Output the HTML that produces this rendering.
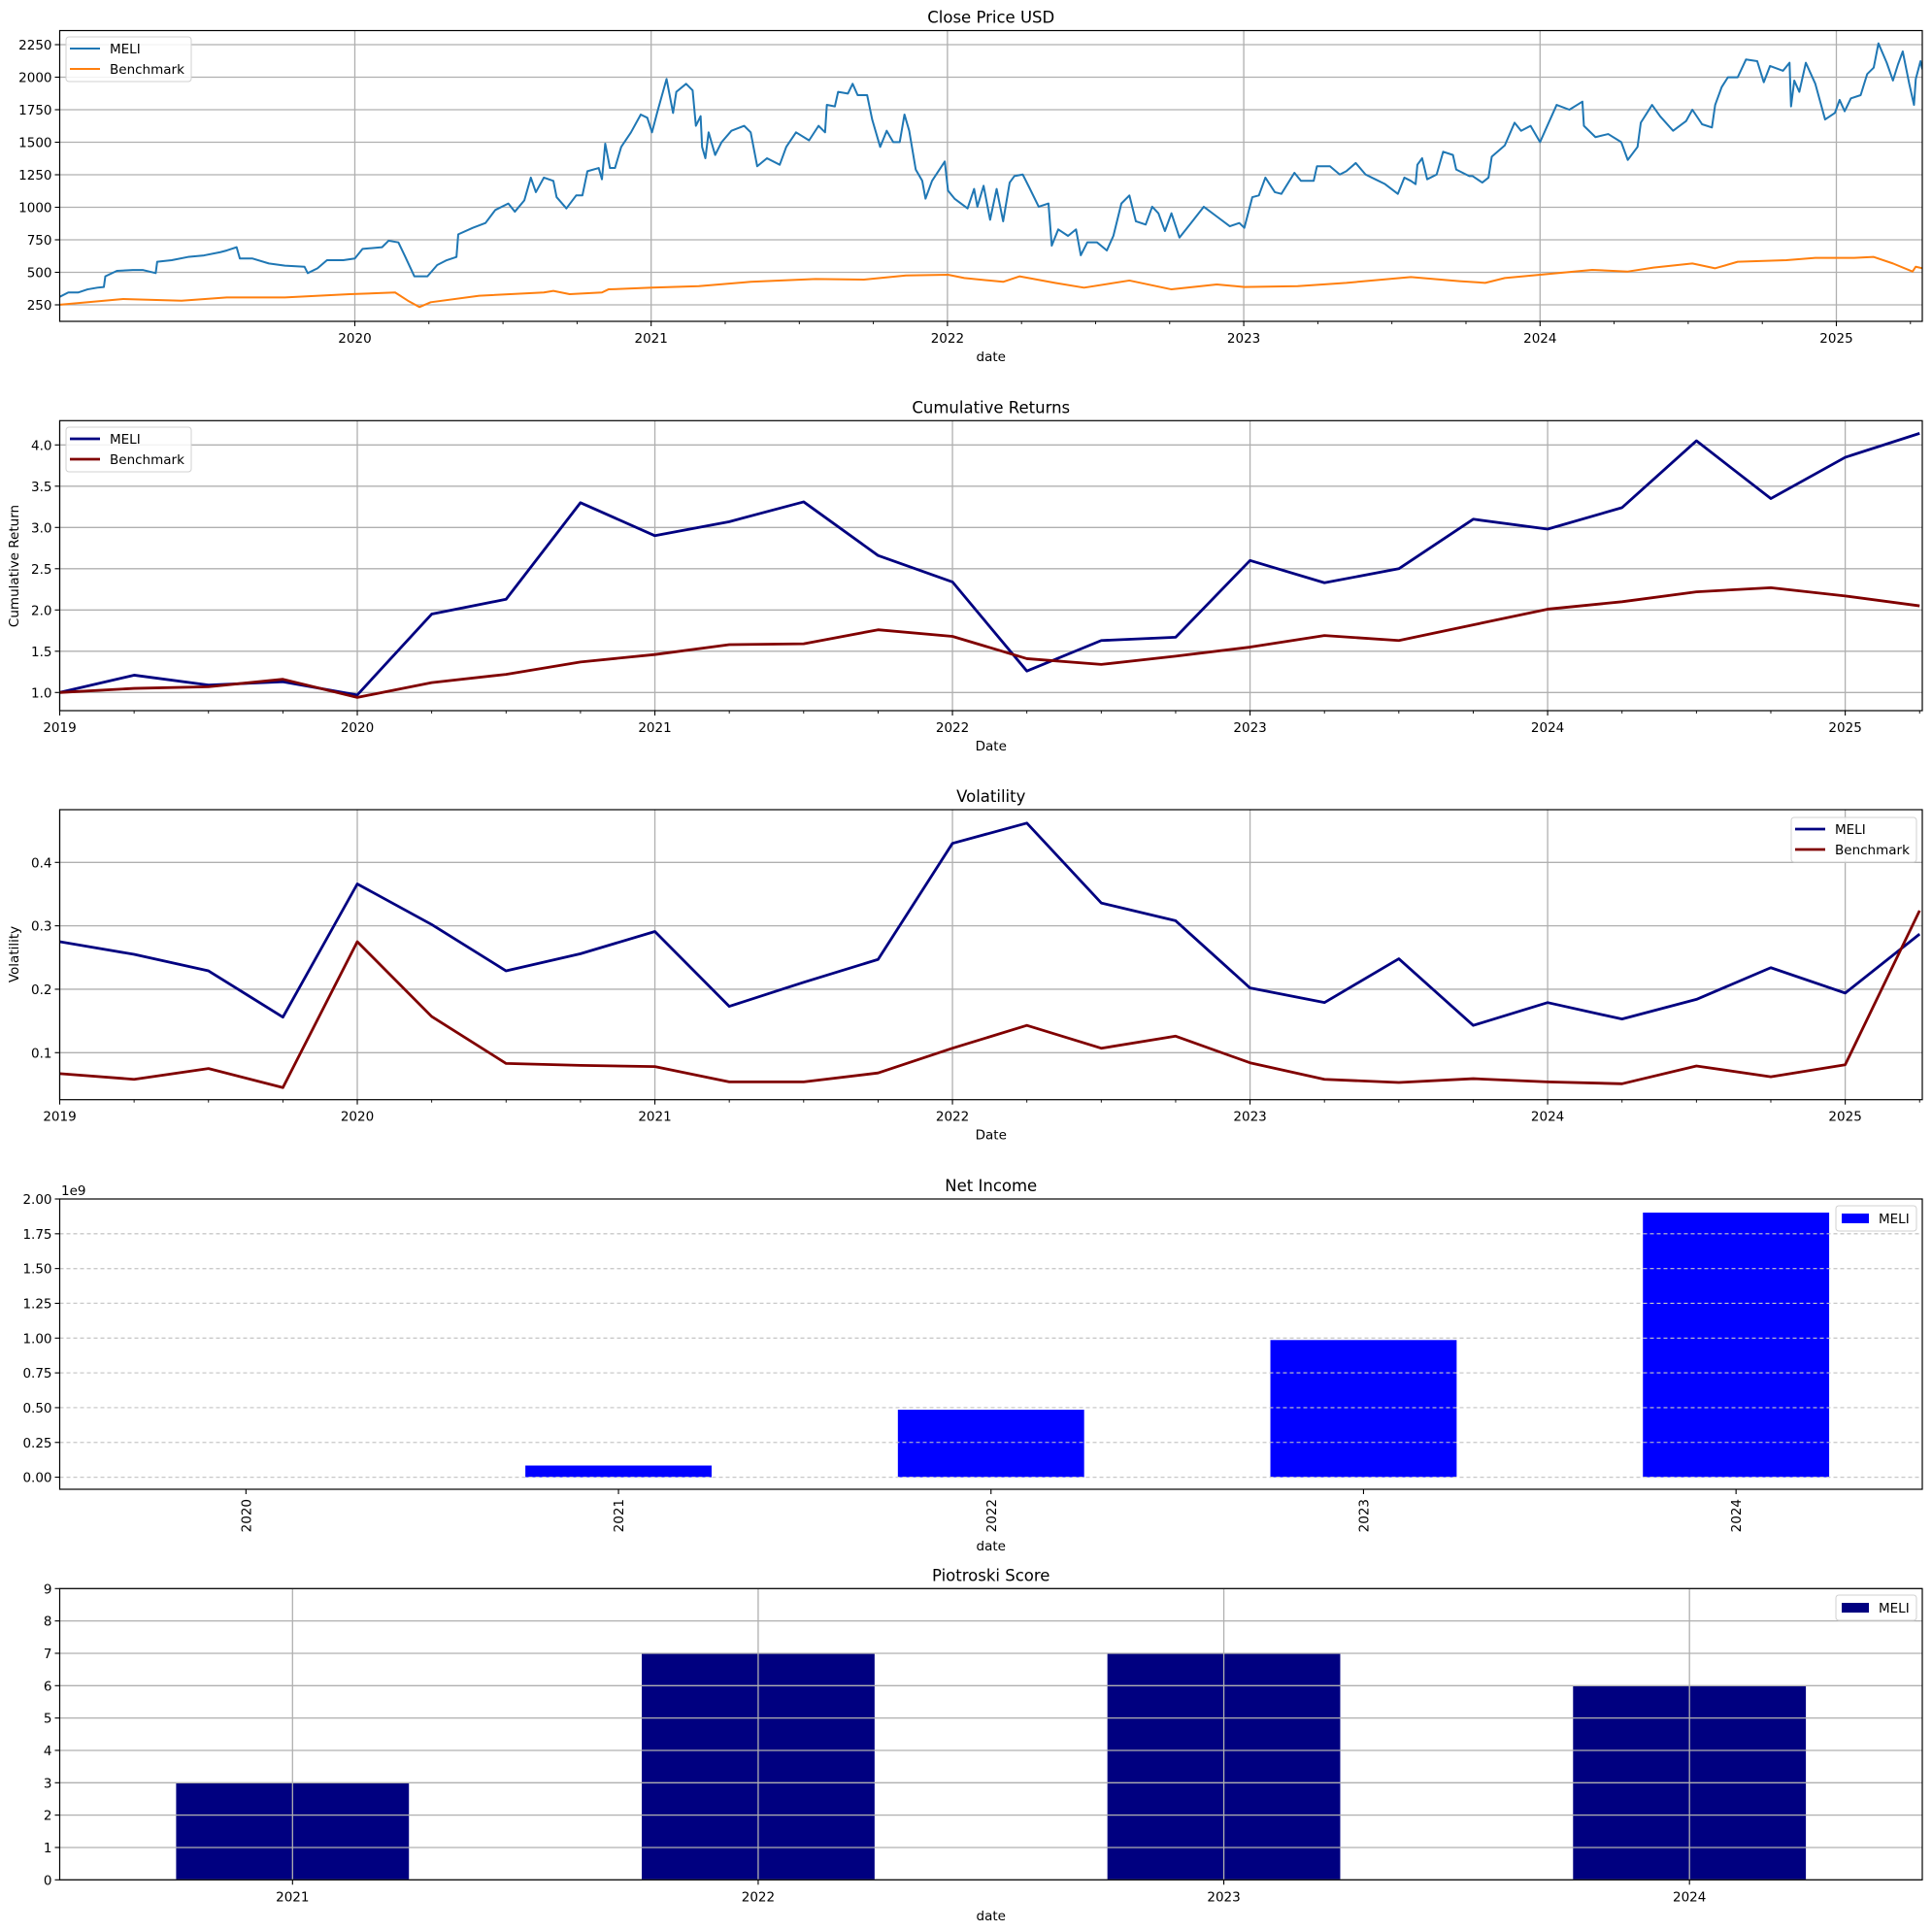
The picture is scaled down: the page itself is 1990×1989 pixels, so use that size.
<!DOCTYPE html>
<html><head><meta charset="utf-8"><title>MELI dashboard</title>
<style>
html,body{margin:0;padding:0;background:#fff;}
svg{display:block;font-family:"DejaVu Sans","Liberation Sans",sans-serif;}
</style></head>
<body>
<svg id="fig" xmlns="http://www.w3.org/2000/svg" width="1990" height="1989" viewBox="0 0 1990 1989"></svg>
<script>
// ---------- data ----------
const closeDates = [2019.000,2019.033,2019.066,2019.098,2019.131,2019.153,2019.158,2019.197,2019.251,2019.284,2019.328,2019.333,2019.382,2019.437,2019.491,2019.546,2019.568,2019.601,2019.612,2019.655,2019.710,2019.764,2019.830,2019.841,2019.874,2019.906,2019.961,2020.000,2020.026,2020.092,2020.114,2020.147,2020.168,2020.201,2020.245,2020.278,2020.310,2020.343,2020.349,2020.398,2020.441,2020.474,2020.518,2020.540,2020.572,2020.594,2020.611,2020.638,
2020.670,2020.681,2020.714,2020.747,2020.768,2020.785,2020.823,2020.834,2020.845,2020.861,2020.878,2020.899,2020.932,2020.965,2020.987,2021.003,2021.020,2021.052,2021.074,2021.085,2021.118,2021.140,2021.151,2021.167,2021.172,2021.183,2021.194,2021.216,2021.238,2021.271,2021.314,2021.336,2021.358,2021.391,2021.434,2021.456,2021.489,2021.533,2021.565,2021.587,2021.593,2021.620,2021.631,2021.664,2021.680,2021.697,2021.729,2021.746,2021.773,2021.795,2021.817,2021.839,2021.855,2021.871,2021.893,2021.915,2021.926,2021.948,2021.991,2022.002,2022.024,2022.068,2022.090,2022.101,2022.122,2022.144,2022.166,2022.188,2022.210,
2022.226,2022.254,2022.276,2022.308,2022.341,2022.352,2022.374,2022.407,2022.434,2022.450,2022.472,2022.505,2022.538,2022.560,2022.587,2022.614,2022.636,2022.669,2022.691,2022.712,2022.734,2022.756,2022.783,2022.822,2022.865,2022.909,2022.953,2022.985,2023.002,2023.029,2023.051,2023.073,2023.105,2023.127,2023.171,2023.193,2023.236,2023.247,2023.291,2023.324,2023.346,2023.378,2023.411,2023.444,2023.477,2023.520,2023.542,2023.564,2023.580,2023.586,2023.602,2023.619,2023.651,2023.673,2023.706,2023.717,2023.761,
2023.772,2023.805,2023.826,2023.837,2023.881,2023.914,2023.936,2023.968,2024.000,2024.034,2024.056,2024.099,2024.143,2024.148,2024.187,2024.230,2024.274,2024.296,2024.329,2024.340,2024.378,2024.405,2024.449,2024.493,2024.514,2024.547,2024.580,2024.591,2024.613,2024.634,2024.667,2024.695,2024.733,2024.755,2024.776,2024.820,2024.842,2024.847,2024.858,2024.875,2024.897,2024.929,2024.962,2024.995,2025.011,2025.028,2025.049,2025.082,2025.104,2025.126,2025.142,2025.170,2025.191,2025.208,2025.224,2025.246,2025.262,2025.268,2025.284,2025.290];
const closeMELI = [307,345,345,369,382,387,469,511,518,518,494,581,593,618,630,655,668,693,606,606,568,551,543,494,531,593,593,606,680,693,743,730,630,469,469,556,593,618,792,842,879,979,1029,966,1053,1228,1116,1228,
1203,1078,991,1091,1091,1277,1302,1215,1489,1302,1302,1464,1576,1713,1688,1576,1725,1986,1725,1887,1949,1899,1626,1700,1464,1377,1576,1402,1501,1588,1626,1576,1315,1377,1327,1464,1576,1514,1626,1576,1787,1775,1887,1874,1949,1862,1862,1675,1464,1588,1501,1501,1713,1588,1290,1203,1066,1203,1352,1128,1066,991,1141,1004,1165,904,1141,892,1190,
1240,1252,1153,1004,1029,705,830,780,830,631,730,730,668,780,1029,1091,892,867,1004,954,817,954,767,879,1004,929,854,879,842,1078,1091,1228,1116,1103,1265,1203,1203,1315,1315,1252,1277,1340,1252,1215,1178,1103,1228,1203,1178,1327,1377,1215,1252,1427,1402,1290,1240,
1240,1190,1228,1389,1476,1650,1588,1626,1501,1675,1787,1750,1812,1626,1539,1563,1501,1364,1464,1650,1787,1700,1588,1663,1750,1638,1613,1787,1924,1999,1999,2136,2123,1961,2086,2049,2111,1775,1974,1887,2111,1949,1675,1725,1825,1738,1837,1862,2024,2073,2260,2111,1974,2098,2198,1949,1787,1986,2123,2061];
const benchDates = [2019.000,2019.218,2019.415,2019.568,2019.764,2019.983,2020.136,2020.179,2020.218,2020.256,2020.420,2020.638,2020.670,2020.725,2020.834,2020.856,2021.003,2021.161,2021.336,2021.555,2021.718,2021.860,2022.002,2022.057,2022.188,2022.243,2022.363,2022.461,2022.614,2022.756,2022.909,2023.002,2023.182,2023.346,2023.564,2023.728,2023.815,2023.881,2024.000,2024.176,2024.296,2024.383,2024.514,2024.591,2024.667,2024.831,2024.929,2025.060,2025.126,2025.191,2025.257,2025.268,2025.290];
const closeBench = [250,295,282,307,307,332,345,282,233,270,320,345,357,332,345,369,382,394,427,449,444,476,481,456,427,469,419,382,437,369,407,387,394,419,464,432,419,456,481,519,506,536,568,531,581,593,611,611,618,568,506,543,531];
const closeYTicks = [250,500,750,1000,1250,1500,1750,2000,2250];

const qDates = [2019.00,2019.25,2019.50,2019.75,2020.00,2020.25,2020.50,2020.75,2021.00,2021.25,2021.50,2021.75,2022.00,2022.25,2022.50,2022.75,2023.00,2023.25,2023.50,2023.75,2024.00,2024.25,2024.50,2024.75,2025.00,2025.25];
const cumMELI = [1.00,1.21,1.09,1.13,0.97,1.95,2.13,3.30,2.90,3.07,3.31,2.66,2.34,1.26,1.63,1.67,2.60,2.33,2.50,3.10,2.98,3.24,4.05,3.35,3.85,4.14];
const cumBench = [1.00,1.05,1.07,1.16,0.94,1.12,1.22,1.37,1.46,1.58,1.59,1.76,1.68,1.41,1.34,1.44,1.55,1.69,1.63,1.82,2.01,2.10,2.22,2.27,2.17,2.05];
const cumYTicks = [1.0,1.5,2.0,2.5,3.0,3.5,4.0];
const volMELI = [0.275,0.255,0.229,0.156,0.366,0.302,0.229,0.256,0.291,0.173,0.211,0.247,0.430,0.462,0.336,0.308,0.202,0.179,0.248,0.143,0.179,0.153,0.184,0.234,0.194,0.287];
const volBench = [0.067,0.058,0.075,0.045,0.275,0.157,0.083,0.080,0.078,0.054,0.054,0.068,0.107,0.143,0.107,0.126,0.084,0.058,0.053,0.059,0.054,0.051,0.079,0.062,0.081,0.324];
const volYTicks = [0.1,0.2,0.3,0.4];
const yearTicks = [2019,2020,2021,2022,2023,2024,2025];

const niYears = ["2020","2021","2022","2023","2024"];
const niValues = [0.0,0.084,0.485,0.986,1.902]; // ×1e9
const niYTicks = [0.00,0.25,0.50,0.75,1.00,1.25,1.50,1.75,2.00];
const pioYears = ["2021","2022","2023","2024"];
const pioValues = [3,7,7,6];
const pioYTicks = [0,1,2,3,4,5,6,7,8,9];

// ---------- helpers ----------
const NS = "http://www.w3.org/2000/svg";
const svg = document.getElementById("fig");
function mk(tag, attrs, parent){
  const e = document.createElementNS(NS, tag);
  for (const k in attrs) e.setAttribute(k, attrs[k]);
  (parent||svg).appendChild(e);
  return e;
}
function txt(s, attrs, parent){ const t = mk("text", attrs, parent); t.textContent = s; return t; }
const L = 61.5, R = 1980;
const GRID = "#b0b0b0";
function linScale(d0,d1,r0,r1){ return v => r0 + (v-d0)/(d1-d0)*(r1-r0); }

function frame(g, top, bot){
  const f = mk("rect",{x:L,y:top,width:R-L,height:bot-top,fill:"none",stroke:"#000","stroke-width":1.2},g);
  
  
}
function title(g, s, top){
  const t = txt(s,{x:(L+R)/2,y:top-8,"text-anchor":"middle","font-size":16.5,fill:"#000"},g);
  
  
}
function xlabel(g, s, y){
  const t = txt(s,{x:(L+R)/2,y:y,"text-anchor":"middle","font-size":13.5,fill:"#000"},g);
  
  
}
function ylabel(g, s, cy){
  const t = txt(s,{x:0,y:0,transform:`translate(19,${cy}) rotate(-90)`,"text-anchor":"middle","font-size":13.5,fill:"#000"},g);
  
  
}
function yAxis(g, ticks, ys, fmt, top, bot, dashed, grid){
  const ga = mk("g",{},g);
  
  
  ticks.forEach(v=>{
    const y = ys(v);
    if (grid) mk("line",{x1:L,x2:R,y1:y,y2:y,stroke:dashed?"#c8c8c8":GRID,"stroke-width":dashed?1.1:1.3,"stroke-dasharray":dashed?"4,3":"none"},ga);
    mk("line",{x1:L-5,x2:L,y1:y,y2:y,stroke:"#000","stroke-width":1.1},ga);
    const t = txt(fmt(v),{x:L-8,y:y+5,"text-anchor":"end","font-size":13.5,fill:"#000"},ga);
    
    
  });
}
function timeXAxis(g, xs, bot, top, labelY){
  const ga = mk("g",{},g);
  
  
  yearTicks.forEach(yr=>{
    const x = xs(yr);
    if (x < L-1 || x > R+1) return;
    mk("line",{x1:x,x2:x,y1:top,y2:bot,stroke:GRID,"stroke-width":1.3},ga);
    mk("line",{x1:x,x2:x,y1:bot,y2:bot+5,stroke:"#000","stroke-width":1.1},ga);
    const t = txt(String(yr),{x:x,y:labelY,"text-anchor":"middle","font-size":13.5,fill:"#000"},ga);
    
    
    [0.25,0.5,0.75].forEach(q=>{
      const xm = xs(yr+q);
      if (xm > L && xm < R+1) mk("line",{x1:xm,x2:xm,y1:bot,y2:bot+3,stroke:"#000","stroke-width":0.9},ga);
    });
  });
}
function pathFrom(xsArr, vals, xs, ys){
  return xsArr.map((d,i)=>(i?"L":"M")+xs(d).toFixed(2)+","+ys(vals[i]).toFixed(2)).join(" ");
}
function lineLegend(g, x0, y0, w, entries){
  const lg = mk("g",{},g);
  
  
  mk("rect",{x:x0,y:y0,width:w,height:46,rx:3,fill:"#fff","fill-opacity":0.85,stroke:"#d0d0d0","stroke-width":1},lg);
  entries.forEach((e,i)=>{
    const yy = y0+12+i*21;
    const it = mk("g",{},lg);
    
    
    mk("line",{x1:x0+4,x2:x0+35,y1:yy,y2:yy,stroke:e.color,"stroke-width":e.w},it);
    txt(e.name,{x:x0+45,y:yy+5,"font-size":13.5,fill:"#000"},it);
  });
}
function patchLegend(g, x0, y0, color){
  const lg = mk("g",{},g);
  
  
  mk("rect",{x:x0,y:y0,width:83,height:26,rx:3,fill:"#fff","fill-opacity":0.85,stroke:"#d0d0d0","stroke-width":1},lg);
  const it = mk("g",{},lg);
  
  
  mk("rect",{x:x0+6,y:y0+8,width:28,height:10,fill:color},it);
  txt("MELI",{x:x0+44,y:y0+18,"font-size":13.5,fill:"#000"},it);
}

// ---------- Panel 1: Close price ----------
(function(){
  const top=31.5, bot=331;
  const g = mk("g",{});  
  const xs = linScale(2019.004,2025.29,L,R);
  const ys = linScale(123.1,2358.2,bot,top);
  yAxis(g, closeYTicks, ys, v=>String(v), top, bot, false, true);
  timeXAxis(g, xs, bot, top, bot+22);
  const cp = mk("clipPath",{id:"c1"},g); mk("rect",{x:L,y:top,width:R-L,height:bot-top},cp);
  const pb = mk("path",{d:pathFrom(benchDates,closeBench,xs,ys),fill:"none",stroke:"#ff7f0e","stroke-width":2,"stroke-linejoin":"round","clip-path":"url(#c1)"},g);
  
  
  const pm = mk("path",{d:pathFrom(closeDates,closeMELI,xs,ys),fill:"none",stroke:"#1f77b4","stroke-width":2,"stroke-linejoin":"round","clip-path":"url(#c1)"},g);
  
  
  frame(g, top, bot);
  title(g, "Close Price USD", top);
  xlabel(g, "date", bot+41);
  lineLegend(g, 68, 38, 129, [{name:"MELI",color:"#1f77b4",w:2},{name:"Benchmark",color:"#ff7f0e",w:2}]);
})();

// ---------- Panel 2: Cumulative returns ----------
(function(){
  const top=433.3, bot=732;
  const g = mk("g",{});  
  const xs = linScale(2019,2025.259,L,R);
  const ys = linScale(0.78,4.294,bot,top);
  yAxis(g, cumYTicks, ys, v=>v.toFixed(1), top, bot, false, true);
  timeXAxis(g, xs, bot, top, bot+22);
  const pm = mk("path",{d:pathFrom(qDates,cumMELI,xs,ys),fill:"none",stroke:"#000080","stroke-width":2.8,"stroke-linejoin":"round"},g);
  
  
  const pb = mk("path",{d:pathFrom(qDates,cumBench,xs,ys),fill:"none",stroke:"#800000","stroke-width":2.8,"stroke-linejoin":"round"},g);
  
  
  frame(g, top, bot);
  title(g, "Cumulative Returns", top);
  xlabel(g, "Date", bot+41);
  ylabel(g, "Cumulative Return", 583);
  lineLegend(g, 68, 440, 129, [{name:"MELI",color:"#000080",w:2.8},{name:"Benchmark",color:"#800000",w:2.8}]);
})();

// ---------- Panel 3: Volatility ----------
(function(){
  const top=834, bot=1132.7;
  const g = mk("g",{});  
  const xs = linScale(2019,2025.259,L,R);
  const ys = linScale(0.0259,0.4831,bot,top);
  yAxis(g, volYTicks, ys, v=>v.toFixed(1), top, bot, false, true);
  timeXAxis(g, xs, bot, top, bot+22);
  const cp = mk("clipPath",{id:"c3"},g); mk("rect",{x:L,y:top,width:R-L,height:bot-top},cp);
  const pm = mk("path",{d:pathFrom(qDates,volMELI,xs,ys),fill:"none",stroke:"#000080","stroke-width":2.8,"stroke-linejoin":"round","clip-path":"url(#c3)"},g);
  
  
  const pb = mk("path",{d:pathFrom(qDates,volBench,xs,ys),fill:"none",stroke:"#800000","stroke-width":2.8,"stroke-linejoin":"round","clip-path":"url(#c3)"},g);
  
  
  frame(g, top, bot);
  title(g, "Volatility", top);
  xlabel(g, "Date", bot+41);
  ylabel(g, "Volatility", 983);
  lineLegend(g, 1845, 842, 129, [{name:"MELI",color:"#000080",w:2.8},{name:"Benchmark",color:"#800000",w:2.8}]);
})();

// ---------- Panel 4: Net income ----------
(function(){
  const top=1235, bot=1534;
  const g = mk("g",{});  
  const ys = linScale(-0.0867,2.0,bot,top);
  const step = (R-L)/niYears.length;
  yAxis(g, niYTicks, ys, v=>v.toFixed(2), top, bot, true, true);
  niYears.forEach((yr,i)=>{
    const cx = L + step*(i+0.5);
    const h = ys(0) - ys(niValues[i]);
    const b = mk("rect",{x:cx-step*0.25,y:ys(niValues[i]),width:step*0.5,height:Math.max(h,0),fill:"#0000ff"},g);
    
    
    mk("line",{x1:cx,x2:cx,y1:bot,y2:bot+5,stroke:"#000","stroke-width":1.1},g);
    const t = txt(yr,{x:0,y:0,transform:`translate(${cx+5},${bot+10}) rotate(-90)`,"text-anchor":"end","font-size":13.5,fill:"#000"},g);
    
    
  });
  // redraw dashed grid above bars (as in reference)
  niYTicks.forEach(v=>{ mk("line",{x1:L,x2:R,y1:ys(v),y2:ys(v),stroke:"#c8c8c8","stroke-width":1.1,"stroke-dasharray":"4,3"},g); });
  frame(g, top, bot);
  const off = txt("1e9",{x:63,y:top-4,"font-size":13.5,fill:"#000"},g);
  
  
  title(g, "Net Income", top);
  xlabel(g, "date", 1597);
  patchLegend(g, 1891, 1242, "#0000ff");
})();

// ---------- Panel 5: Piotroski ----------
(function(){
  const top=1636.3, bot=1936.3;
  const g = mk("g",{});  
  const ys = linScale(0,9,bot,top);
  const step = (R-L)/pioYears.length;
  pioYears.forEach((yr,i)=>{
    const cx = L + step*(i+0.5);
    const b = mk("rect",{x:cx-step*0.25,y:ys(pioValues[i]),width:step*0.5,height:ys(0)-ys(pioValues[i]),fill:"#000080"},g);
    
    
  });
  yAxis(g, pioYTicks, ys, v=>String(v), top, bot, false, true);
  pioYears.forEach((yr,i)=>{
    const cx = L + step*(i+0.5);
    mk("line",{x1:cx,x2:cx,y1:top,y2:bot,stroke:GRID,"stroke-width":1.3},g);
    mk("line",{x1:cx,x2:cx,y1:bot,y2:bot+5,stroke:"#000","stroke-width":1.1},g);
    const t = txt(yr,{x:cx,y:bot+22,"text-anchor":"middle","font-size":13.5,fill:"#000"},g);
    
    
  });
  frame(g, top, bot);
  title(g, "Piotroski Score", top);
  xlabel(g, "date", 1978);
  patchLegend(g, 1891, 1643, "#000080");
})();
</script>
</body></html>
